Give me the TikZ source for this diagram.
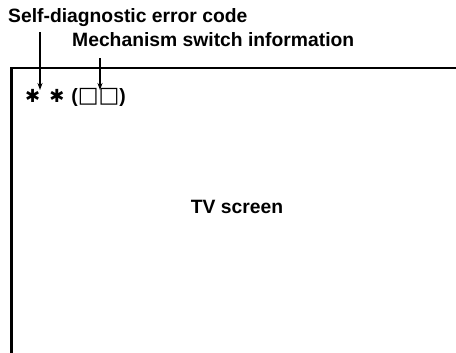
\documentclass[tikz,border=0pt]{standalone}
\usepackage{fontspec}
\setmainfont{Liberation Sans}
\newfontfamily\symfont{DejaVu Sans}
\usetikzlibrary{arrows.meta,positioning}

\begin{document}
\begin{tikzpicture}[x=1pt, y=-1pt,
  lbl/.style={font=\fontsize{19.3}{23}\selectfont\bfseries, inner sep=0pt, anchor=base west},
  screen/.style={line width=2.5pt},
  arr/.style={-{Stealth[length=7pt,width=5pt]}, line width=1.2pt},
]
\useasboundingbox (0,0) rectangle (456,353);
% TV screen frame, only top and left edge visible
\draw[screen] (11.5,353) |- (456,68);

\node[lbl] (errlbl)  at (8,23)  {Self-diagnostic error code};
\node[lbl] (mechlbl) at (72,47) {Mechanism switch information};
\node[lbl] (codes)   at (25,103)
  {{\symfont\fontsize{18}{20}\selectfont\raisebox{1pt}{✱}\hspace{9pt}\raisebox{1pt}{✱}}\hspace{7pt}({\symfont\mdseries\fontsize{22}{23}\selectfont □□})};
\node[lbl, anchor=base] (tv) at (237,213) {TV screen};

\coordinate (errtip)  at (40,90);
\coordinate (mechtip) at (100,90);
\draw[arr] (errlbl.south -| errtip) ++(0,5) -- (errtip);
\draw[arr] (mechlbl.south -| mechtip) ++(0,11) -- (mechtip);
\end{tikzpicture}
\end{document}
